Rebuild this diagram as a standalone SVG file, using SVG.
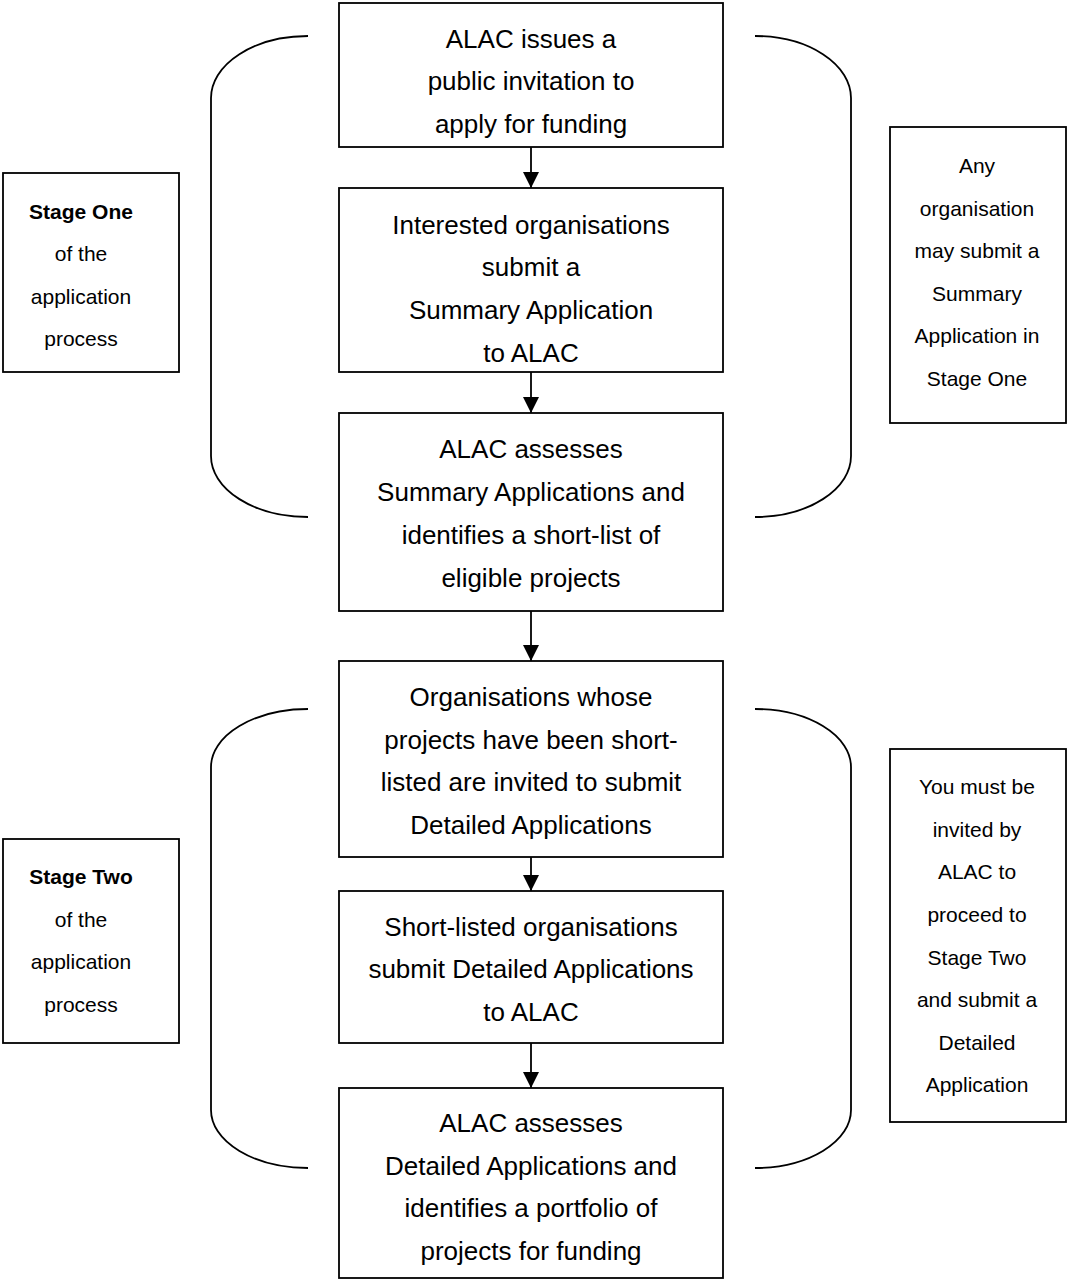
<svg xmlns="http://www.w3.org/2000/svg" width="1067" height="1280" viewBox="0 0 1067 1280">
<style>
.box{fill:#fff;stroke:#000;stroke-width:1.8}
.t{font-family:"Liberation Sans",Arial,sans-serif;font-size:26px;fill:#000;text-anchor:middle}
.s{font-family:"Liberation Sans",Arial,sans-serif;font-size:21px;fill:#000;text-anchor:middle}
.b{font-weight:bold}
.br{fill:none;stroke:#000;stroke-width:1.8}
.ar{stroke:#000;stroke-width:1.8;fill:none}
</style>
<defs>
<marker id="ah" markerWidth="16" markerHeight="16" viewBox="0 0 16 16" refX="16" refY="8" orient="auto" markerUnits="userSpaceOnUse">
<path d="M0,0 L16,8 L0,16 Z" fill="#000"/>
</marker>
</defs>
<rect width="1067" height="1280" fill="#fff"/>
<g id="brackets">
<path class="br" d="M308,36 A97,62 0 0 0 211,98 V456 A97,61 0 0 0 308,517"/>
<path class="br" d="M755,36 A96,62 0 0 1 851,98 V456 A96,61 0 0 1 755,517"/>
<path class="br" d="M308,709 A97,58 0 0 0 211,767 V1110 A97,58 0 0 0 308,1168"/>
<path class="br" d="M755,709 A96,58 0 0 1 851,767 V1110 A96,58 0 0 1 755,1168"/>
</g>
<g id="connectors">
<line class="ar" x1="531" y1="147" x2="531" y2="188" marker-end="url(#ah)"/>
<line class="ar" x1="531" y1="372" x2="531" y2="413" marker-end="url(#ah)"/>
<line class="ar" x1="531" y1="611" x2="531" y2="661" marker-end="url(#ah)"/>
<line class="ar" x1="531" y1="857" x2="531" y2="891" marker-end="url(#ah)"/>
<line class="ar" x1="531" y1="1043" x2="531" y2="1088" marker-end="url(#ah)"/>
</g>
<g id="n1">
<rect class="box" x="339" y="3" width="384" height="144"/>
<text class="t" x="531" y="48">ALAC issues a</text>
<text class="t" x="531" y="90">public invitation to</text>
<text class="t" x="531" y="133">apply for funding</text>
</g>
<g id="n2">
<rect class="box" x="339" y="188" width="384" height="184"/>
<text class="t" x="531" y="234">Interested organisations</text>
<text class="t" x="531" y="276">submit a</text>
<text class="t" x="531" y="319">Summary Application</text>
<text class="t" x="531" y="362">to ALAC</text>
</g>
<g id="n3">
<rect class="box" x="339" y="413" width="384" height="198"/>
<text class="t" x="531" y="458">ALAC assesses</text>
<text class="t" x="531" y="501">Summary Applications and</text>
<text class="t" x="531" y="544">identifies a short-list of</text>
<text class="t" x="531" y="587">eligible projects</text>
</g>
<g id="n4">
<rect class="box" x="339" y="661" width="384" height="196"/>
<text class="t" x="531" y="706">Organisations whose</text>
<text class="t" x="531" y="749">projects have been short-</text>
<text class="t" x="531" y="791">listed are invited to submit</text>
<text class="t" x="531" y="834">Detailed Applications</text>
</g>
<g id="n5">
<rect class="box" x="339" y="891" width="384" height="152"/>
<text class="t" x="531" y="936">Short-listed organisations</text>
<text class="t" x="531" y="978">submit Detailed Applications</text>
<text class="t" x="531" y="1021">to ALAC</text>
</g>
<g id="n6">
<rect class="box" x="339" y="1088" width="384" height="190"/>
<text class="t" x="531" y="1132">ALAC assesses</text>
<text class="t" x="531" y="1175">Detailed Applications and</text>
<text class="t" x="531" y="1217">identifies a portfolio of</text>
<text class="t" x="531" y="1260">projects for funding</text>
</g>
<g id="stage1">
<rect class="box" x="3" y="173" width="176" height="199"/>
<text class="s b" x="81" y="219">Stage One</text>
<text class="s" x="81" y="261">of the</text>
<text class="s" x="81" y="304">application</text>
<text class="s" x="81" y="346">process</text>
</g>
<g id="note1">
<rect class="box" x="890" y="127" width="176" height="296"/>
<text class="s" x="977" y="173">Any</text>
<text class="s" x="977" y="216">organisation</text>
<text class="s" x="977" y="258">may submit a</text>
<text class="s" x="977" y="301">Summary</text>
<text class="s" x="977" y="343">Application in</text>
<text class="s" x="977" y="386">Stage One</text>
</g>
<g id="stage2">
<rect class="box" x="3" y="839" width="176" height="204"/>
<text class="s b" x="81" y="884">Stage Two</text>
<text class="s" x="81" y="927">of the</text>
<text class="s" x="81" y="969">application</text>
<text class="s" x="81" y="1012">process</text>
</g>
<g id="note2">
<rect class="box" x="890" y="749" width="176" height="373"/>
<text class="s" x="977" y="794">You must be</text>
<text class="s" x="977" y="837">invited by</text>
<text class="s" x="977" y="879">ALAC to</text>
<text class="s" x="977" y="922">proceed to</text>
<text class="s" x="977" y="965">Stage Two</text>
<text class="s" x="977" y="1007">and submit a</text>
<text class="s" x="977" y="1050">Detailed</text>
<text class="s" x="977" y="1092">Application</text>
</g>
</svg>
